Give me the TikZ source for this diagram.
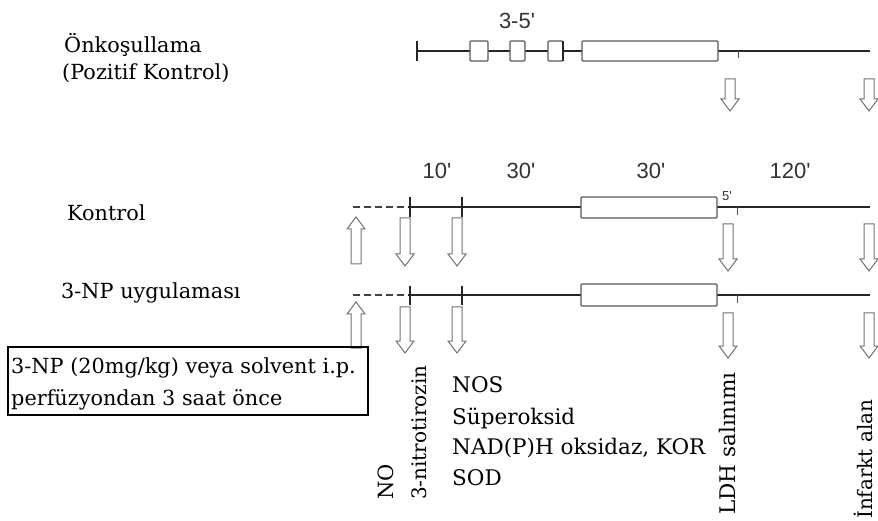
\documentclass[tikz,border=0pt]{standalone}
\usepackage{fontspec}
\setmainfont{DejaVu Serif}
\newfontfamily\numfont{Liberation Sans}
\begin{document}
\begin{tikzpicture}[x=1pt,y=-1pt,
  tl/.style={line width=1.3pt,draw=black!85},
  tk/.style={line width=1.3pt,draw=black!85},
  dsh/.style={line width=1.3pt,draw=black!75,dash pattern=on 7pt off 4pt},
  bx/.style={line width=1.2pt,draw=black!65,fill=white,rounded corners=1pt},
  arr/.style={line width=1pt,draw=black!55,fill=white,line join=miter},
  lbl/.style={font=\fontsize{20.8}{24}\selectfont,inner sep=0pt},
  lst/.style={font=\fontsize{21.5}{24}\selectfont,inner sep=0pt},
  num/.style={font=\numfont\fontsize{22}{24}\selectfont,inner sep=0pt,text=black!80},
  vlbl/.style={inner sep=0pt,rotate=90,anchor=base west}]
\useasboundingbox (0,0) rectangle (878,521);
% arrow macros: x, tail y, tip y
\newcommand\dnarr[3]{\draw[arr] ({#1-5},{#2}) -- ({#1+5},{#2}) -- ({#1+5},{#3-12}) -- ({#1+9},{#3-12}) -- ({#1},{#3}) -- ({#1-9},{#3-12}) -- ({#1-5},{#3-12}) -- cycle;}
\newcommand\uparr[3]{\draw[arr] ({#1-5},{#2}) -- ({#1+5},{#2}) -- ({#1+5},{#3+12}) -- ({#1+9},{#3+12}) -- ({#1},{#3}) -- ({#1-9},{#3+12}) -- ({#1-5},{#3+12}) -- cycle;}

% ---------- row 1 ----------
\node[lbl,anchor=west] (onk) at (64,45) {Önkoşullama};
\node[lbl,anchor=west] (poz) at (62,73) {(Pozitif Kontrol)};
\draw[tl] (417,51) -- (870,51);
\draw[tk] (417,41) -- (417,61);
\draw[bx] (470,41) rectangle (488,61);
\draw[bx] (510,41) rectangle (525,61);
\draw[bx] (548,41) rectangle (563,61);
\draw[tk] (563,41) -- (563,61);
\draw[bx] (582,41) rectangle (718,61);
\draw[line width=1pt,black!70] (738,51) -- (738,58);
\node[num] (t35) at (517,21) {3-5'};
\dnarr{730}{79}{111}
\dnarr{869}{79}{111}

% ---------- row 2 ----------
\node[lbl,anchor=west] (kon) at (67,213) {Kontrol};
\draw[dsh] (353,207) -- (408,207);
\draw[tl] (408,207) -- (870,207);
\draw[tk] (410,197) -- (410,217);
\draw[tk] (462,197) -- (462,217);
\draw[bx] (581,197) rectangle (717,218);
\draw[line width=1pt,black!70] (737,207) -- (737,215);
\node[num] (t10) at (437,171) {10'};
\node[num] (t30a) at (521,171) {30'};
\node[num] (t30b) at (651,171) {30'};
\node[num] (t120) at (790,171) {120'};
\node[num,font=\numfont\fontsize{13}{14}\selectfont] (t5) at (727,196) {5'};
\uparr{356}{264}{217}
\dnarr{405}{218}{266}
\dnarr{457}{218}{266}
\dnarr{728}{224}{271}
\dnarr{869}{224}{271}

% ---------- row 3 ----------
\node[lbl,anchor=west] (np) at (61,293) {3-NP uygulaması};
\draw[dsh] (353,295) -- (408,295);
\draw[tl] (408,295) -- (870,295);
\draw[tk] (410,286) -- (410,305);
\draw[tk] (462,286) -- (462,305);
\draw[bx] (581,284) rectangle (717,306);
\draw[line width=1pt,black!70] (737,295) -- (737,303);
\uparr{356}{348}{302}
\dnarr{405}{307}{353}
\dnarr{457}{307}{353}
\dnarr{728}{313}{358}
\dnarr{869}{313}{358}

% ---------- info box ----------
\draw[line width=1.3pt,black] (8,347) rectangle (368,415);
\node[lbl,anchor=west] (b1) at (11,368) {3-NP (20mg/kg) veya solvent i.p.};
\node[lbl,anchor=west] (b2) at (11,400) {perfüzyondan 3 saat önce};

% ---------- measured list ----------
\node[lst,anchor=west] (nos) at (452,385) {NOS};
\node[lst,anchor=west] (sup) at (452,418) {Süperoksid};
\node[lst,anchor=west] (nad) at (452,448) {NAD(P)H oksidaz, KOR};
\node[lst,anchor=west] (sod) at (452,478) {SOD};

% ---------- rotated labels ----------
\node[vlbl,font=\fontsize{21}{24}\selectfont] (no) at (393,500) {NO};
\node[vlbl,font=\fontsize{20}{24}\selectfont] (nit) at (426,500) {3-nitrotirozin};
\node[vlbl,font=\fontsize{21.5}{24}\selectfont] (ldh) at (735,515) {LDH salınımı};
\node[vlbl,font=\fontsize{20}{24}\selectfont] (inf) at (872,519) {İnfarkt alan};
\end{tikzpicture}
\end{document}
